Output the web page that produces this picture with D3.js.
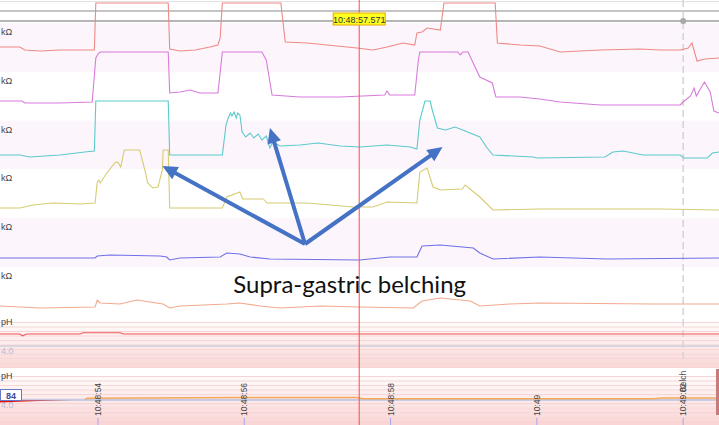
<!DOCTYPE html>
<html>
<head>
<meta charset="UTF-8">
<script src="https://d3js.org/d3.v7.min.js"></script>
<style>
  body { margin: 0; background: #fff; }
  svg { display: block; }
</style>
</head>
<body>
<svg width="719" height="425"></svg>
<script>
// times are seconds after 10:48:00
const timeDomain = [52.66, 62.49];
const tickTimes = [54, 56, 58, 60, 62];
const tickLabels = ["10:48:54", "10:48:56", "10:48:58", "10:49", "10:49:02"];
const cursorTime = 57.571;
const cursorLabel = "10:48:57.571";
const eventTime = 62.0;
const eventLabel = "Belch";

const channelUnits = ["kΩ", "kΩ", "kΩ", "kΩ", "kΩ", "kΩ"];
const channelColors = ["#ee8a86", "#d87bdb", "#5ccaca", "#d6cc72", "#7070e8", "#f3a98e"];

// impedance traces [time, kΩ]
const imp1 = [[52.66,2.6],[52.93,2.6],[53.00,2.3],[53.21,2.2],[53.48,2.3],[53.95,2.3],[53.97,7],[54.96,7],[54.98,2.4],[55.12,2.2],[55.33,2.3],[55.53,2.6],[55.64,2.8],[55.67,3.5],[55.70,7],[56.50,7],[56.56,3.1],[56.86,3.0],[57.54,2.5],[57.76,2.3],[57.95,2.6],[58.17,3.0],[58.33,2.8],[58.36,4.0],[58.43,4.1],[58.50,4.5],[58.68,4.3],[58.73,7],[59.43,7],[59.46,3.0],[59.77,2.8],[60.04,2.7],[60.32,2.1],[60.59,2.2],[60.87,2.3],[61.41,2.4],[61.69,2.3],[61.96,2.3],[62.07,2.5],[62.12,3.0],[62.19,1.2],[62.30,1.4],[62.49,1.5]];
const imp2 = [[52.66,2.1],[52.96,2.1],[53.00,1.9],[53.48,1.9],[53.92,2.0],[53.97,6.4],[54.00,6.8],[54.03,7],[54.96,7],[54.98,2.9],[55.12,3.0],[55.26,3.2],[55.39,2.9],[55.64,2.9],[55.70,7],[56.24,7],[56.30,6.2],[56.38,2.7],[56.76,2.5],[57.31,2.5],[57.92,2.7],[57.95,3.1],[57.99,2.7],[58.33,2.7],[58.38,6.2],[58.40,7],[58.92,7],[58.95,6.7],[58.99,7],[59.06,7],[59.11,6.2],[59.22,4.5],[59.39,3.9],[59.44,2.5],[59.77,2.5],[60.04,2.3],[60.32,2.0],[60.87,1.7],[61.96,1.7],[62.00,2.0],[62.10,2.6],[62.15,3.4],[62.18,2.6],[62.29,4.0],[62.37,3.0],[62.42,1.1],[62.49,0.9]];
const imp3 = [[52.66,1.6],[52.93,1.6],[53.07,1.4],[53.48,1.6],[53.82,1.9],[53.95,2.0],[53.97,7],[54.96,7],[54.98,1.6],[55.70,1.6],[55.75,4.6],[55.78,5.3],[55.81,5.8],[55.83,5.5],[55.86,5.9],[55.89,5.3],[55.91,5.8],[55.94,5.6],[55.97,3.9],[56.02,3.4],[56.08,3.8],[56.13,3.3],[56.19,3.7],[56.24,3.1],[56.30,3.5],[56.35,2.3],[56.39,2.9],[56.49,2.5],[56.76,2.6],[57.01,2.8],[57.31,2.5],[57.58,2.4],[57.95,2.6],[58.27,2.4],[58.36,2.2],[58.40,5.1],[58.47,7],[58.54,7],[58.57,6.1],[58.64,4.3],[58.75,4.1],[58.88,4.4],[59.02,4.0],[59.22,3.4],[59.32,2.3],[59.40,1.6],[59.95,1.4],[60.00,1.3],[60.93,1.4],[61.04,1.9],[61.18,2.0],[61.45,1.6],[61.96,1.6],[62.01,1.3],[62.33,1.3],[62.40,1.8],[62.49,1.9]];
const imp4 = [[52.66,1.2],[52.93,1.2],[53.11,1.5],[53.38,1.7],[53.75,1.6],[53.96,1.7],[53.99,3.8],[54.01,4.0],[54.03,3.7],[54.12,4.7],[54.23,5.7],[54.27,5.8],[54.31,5.3],[54.36,7],[54.57,7],[54.64,5.0],[54.68,3.7],[54.75,3.2],[54.82,3.3],[54.88,5.0],[54.89,7],[54.96,7],[54.98,1.2],[55.70,1.2],[55.76,2.3],[55.94,2.8],[55.98,2.1],[56.26,2.1],[56.31,1.7],[56.86,1.7],[57.49,1.3],[57.76,1.3],[57.95,1.8],[58.36,1.7],[58.40,4.8],[58.50,5.2],[58.58,3.3],[58.68,3.0],[58.98,3.1],[59.02,3.5],[59.22,2.3],[59.40,1.0],[60.04,1.1],[60.87,1.1],[61.69,1.1],[62.49,1.0]];
const imp5 = [[52.66,1.1],[53.96,1.1],[53.99,1.3],[54.16,1.4],[54.85,1.3],[54.94,1.2],[54.98,0.9],[55.12,1.1],[55.67,1.2],[55.76,1.6],[55.94,1.5],[56.08,1.2],[56.35,1.0],[57.58,0.9],[57.99,1.2],[58.36,1.2],[58.43,2.3],[58.68,2.4],[59.13,2.1],[59.22,1.6],[59.40,1.0],[60.04,1.2],[60.96,1.0],[62.49,1.1]];
const imp6 = [[52.66,1.2],[52.93,1.1],[53.21,1.0],[53.96,1.1],[53.99,1.8],[54.03,1.5],[54.30,1.4],[54.53,1.8],[54.89,1.4],[54.98,1.0],[55.12,1.2],[55.76,1.4],[55.94,1.5],[56.22,1.2],[56.49,1.0],[57.04,1.2],[57.58,1.1],[58.31,1.0],[58.43,1.7],[58.68,2.0],[59.09,1.7],[59.22,1.2],[59.63,1.4],[60.04,1.5],[61.59,1.4],[62.49,1.4]];
const channels = [imp1, imp2, imp3, imp4, imp5, imp6];

// pH traces [time, pH]
const phUnits = ["pH", "pH"];
const phThreshold = 4.0;
const ph1 = [[52.66,6.0],[52.93,6.0],[52.97,5.7],[53.02,6.0],[53.75,6.0],[53.80,6.2],[54.30,6.2],[54.35,6.0],[62.49,6.0]];
const ph2 = [[52.66,3.6],[53.00,3.75],[53.40,3.9],[53.65,4.0],[53.82,4.05],[53.85,4.3],[55.94,4.4],[57.55,4.4],[57.62,4.2],[61.60,4.2],[61.70,4.35],[62.49,4.35]];
const markerValue = "84";

// annotation anchors: time, channel index, kΩ
const arrowOrigin = [56.83, 4, 2.5];
const arrowTips = [[54.88, 3, 5.4], [56.35, 2, 4.3], [58.71, 2, 2.4]];
const noteText = "Supra-gastric belching";
const notePos = [57.44, 5, 2.5];

const W = 719, H = 425;
const svg = d3.select("svg");

const x = d3.scaleLinear().domain(timeDomain).range([0, W]);

// channel layout
const chTop = k => 3 + 49 * k;
const bandTop = k => 23 + 48.8 * k;
const yCh = channels.map((c, k) => d3.scaleLinear().domain([0, 7]).range([chTop(k) + 70, chTop(k)]));

// backgrounds
channels.forEach((c, k) => {
  svg.append("rect")
    .attr("x", 0).attr("y", bandTop(k))
    .attr("width", W).attr("height", 48.8)
    .attr("fill", k % 2 === 0 ? "#fdf5fc" : "#ffffff");
});

// pH panels
const phPanels = [
  { top: 316, bottom: 368, y: d3.scaleLinear().domain([0, 8]).range([370, 322]), data: ph1 },
  { top: 370, bottom: 425, y: d3.scaleLinear().domain([0, 8]).range([424, 376]), data: ph2 }
];
const stripeColor = d3.interpolateRgb("#fffafa", "#fbd3d3");
phPanels.forEach(p => {
  const g = svg.append("g");
  g.append("rect").attr("x", 0).attr("y", p.top).attr("width", W).attr("height", p.bottom - p.top).attr("fill", "#fff");
  d3.range(8, 0, -0.75).forEach(v => {
    const y0 = Math.max(p.y(v), p.top), y1 = Math.min(p.y(v - 0.75), p.bottom);
    if (y1 <= y0) return;
    g.append("rect").attr("x", 0).attr("y", y0).attr("width", W).attr("height", y1 - y0)
      .attr("fill", stripeColor(1 - v / 8));
    g.append("line").attr("x1", 0).attr("x2", W).attr("y1", y0 + 0.5).attr("y2", y0 + 0.5)
      .attr("stroke", "#f4d6d6").attr("stroke-width", 1);
  });
});

// header lines
[[1.5, "#e2e2e2", 1], [11, "#b2b2b2", 1.6], [21, "#9c9c9c", 1.6]].forEach(([yy, c, w]) => {
  svg.append("line").attr("x1", 0).attr("x2", W).attr("y1", yy).attr("y2", yy)
    .attr("stroke", c).attr("stroke-width", w);
});

// event marker
svg.append("line")
  .attr("x1", x(eventTime)).attr("x2", x(eventTime)).attr("y1", 0).attr("y2", 362)
  .attr("stroke", "#d4d4d4").attr("stroke-width", 1.5).attr("stroke-dasharray", "7,4");
svg.append("circle").attr("cx", x(eventTime)).attr("cy", 21).attr("r", 3).attr("fill", "#a8a8a8");

// impedance traces
channels.forEach((data, k) => {
  const line = d3.line().x(d => x(d[0])).y(d => yCh[k](d[1]));
  svg.append("path").datum(data)
    .attr("d", line).attr("fill", "none")
    .attr("stroke", channelColors[k]).attr("stroke-width", 1.1);
  svg.append("text").attr("x", 1).attr("y", bandTop(k) + 12)
    .attr("font-family", "Liberation Sans").attr("font-size", 9).attr("fill", "#444")
    .text(channelUnits[k]);
});

// pH traces
phPanels.forEach((p, i) => {
  svg.append("text").attr("x", 1).attr("y", p.top + 9)
    .attr("font-family", "Liberation Sans").attr("font-size", 9).attr("fill", "#444")
    .text(phUnits[i]);
  svg.append("text").attr("x", 1).attr("y", p.y(phThreshold) + 8)
    .attr("font-family", "Liberation Sans").attr("font-size", 9).attr("fill", "#b4bcd4")
    .text(phThreshold.toFixed(1));
});
svg.append("line").attr("x1", 0).attr("x2", W)
  .attr("y1", phPanels[0].y(phThreshold)).attr("y2", phPanels[0].y(phThreshold))
  .attr("stroke", "#cfcfe0").attr("stroke-width", 1.5);
svg.append("path").datum(ph1)
  .attr("d", d3.line().x(d => x(d[0])).y(d => phPanels[0].y(d[1])))
  .attr("fill", "none").attr("stroke", "#f05555").attr("stroke-width", 1.1);

const y2 = phPanels[1].y;
svg.append("path").datum(ph2)
  .attr("d", d3.area().x(d => x(d[0])).y0(y2(phThreshold)).y1(d => y2(Math.min(d[1], phThreshold))))
  .attr("fill", "#e41010");
svg.append("line").attr("x1", 0).attr("x2", W)
  .attr("y1", y2(phThreshold)).attr("y2", y2(phThreshold))
  .attr("stroke", "#94b2e2").attr("stroke-width", 1);
svg.append("path").datum(ph2.filter(d => d[1] > phThreshold))
  .attr("d", d3.line().x(d => x(d[0])).y(d => y2(d[1])))
  .attr("fill", "none").attr("stroke", "#f4aa5a").attr("stroke-width", 1.5);

// marker box
svg.append("rect").attr("x", 0.5).attr("y", 389.5).attr("width", 21).attr("height", 11)
  .attr("fill", "#fff").attr("stroke", "#6a78c8");
svg.append("text").attr("x", 11).attr("y", 398.5).attr("text-anchor", "middle")
  .attr("font-family", "Liberation Sans").attr("font-size", 9).attr("font-weight", "bold")
  .attr("fill", "#3a48a0").text(markerValue);

// right edge bar
svg.append("rect").attr("x", 716).attr("y", 369).attr("width", 3).attr("height", 46).attr("fill", "#c97a7a");

// time axis labels
tickTimes.forEach((t, i) => {
  svg.append("line").attr("x1", x(t)).attr("x2", x(t)).attr("y1", 418).attr("y2", 425)
    .attr("stroke", "#a4a4ee");
  svg.append("text")
    .attr("transform", `translate(${x(t) + 3},416) rotate(-90)`)
    .attr("font-family", "Liberation Sans").attr("font-size", 8.5).attr("fill", "#444")
    .text(tickLabels[i]);
});
svg.append("text")
  .attr("transform", `translate(${x(eventTime) + 3},392) rotate(-90)`)
  .attr("font-family", "Liberation Sans").attr("font-size", 8.5).attr("fill", "#555")
  .text(eventLabel);

// cursor
const cx = x(cursorTime);
svg.append("line").attr("x1", cx).attr("x2", cx).attr("y1", 0).attr("y2", H)
  .attr("stroke", "#ff4a4a").attr("stroke-width", 1);
svg.append("rect").attr("x", cx - 26).attr("y", 13).attr("width", 52).attr("height", 12)
  .attr("fill", "#ffff22").attr("stroke", "#e6a800");
svg.append("text").attr("x", cx).attr("y", 22.5).attr("text-anchor", "middle")
  .attr("font-family", "Liberation Sans").attr("font-size", 9).attr("fill", "#333")
  .text(cursorLabel);

// annotation arrows
const pt = a => [x(a[0]), yCh[a[1]](a[2])];
const O = pt(arrowOrigin);
const blue = "#4472c4";
arrowTips.forEach(a => {
  const T = pt(a);
  const dx = T[0] - O[0], dy = T[1] - O[1], len = Math.hypot(dx, dy);
  const ux = dx / len, uy = dy / len, nx = -uy, ny = ux;
  const L = 15, hw = 7;
  const bx = T[0] - L * ux, by = T[1] - L * uy;
  svg.append("line").attr("x1", O[0]).attr("y1", O[1])
    .attr("x2", T[0] - L * 0.7 * ux).attr("y2", T[1] - L * 0.7 * uy)
    .attr("stroke", blue).attr("stroke-width", 4);
  svg.append("polygon")
    .attr("points", [[T[0], T[1]], [bx + hw * nx, by + hw * ny], [bx - hw * nx, by - hw * ny]].map(p => p.join(",")).join(" "))
    .attr("fill", blue);
});

const np = pt(notePos);
svg.append("text").attr("x", np[0]).attr("y", np[1]).attr("text-anchor", "middle")
  .attr("font-family", "Lato").attr("font-size", 24).attr("fill", "#111")
  .text(noteText);
</script>
</body>
</html>
